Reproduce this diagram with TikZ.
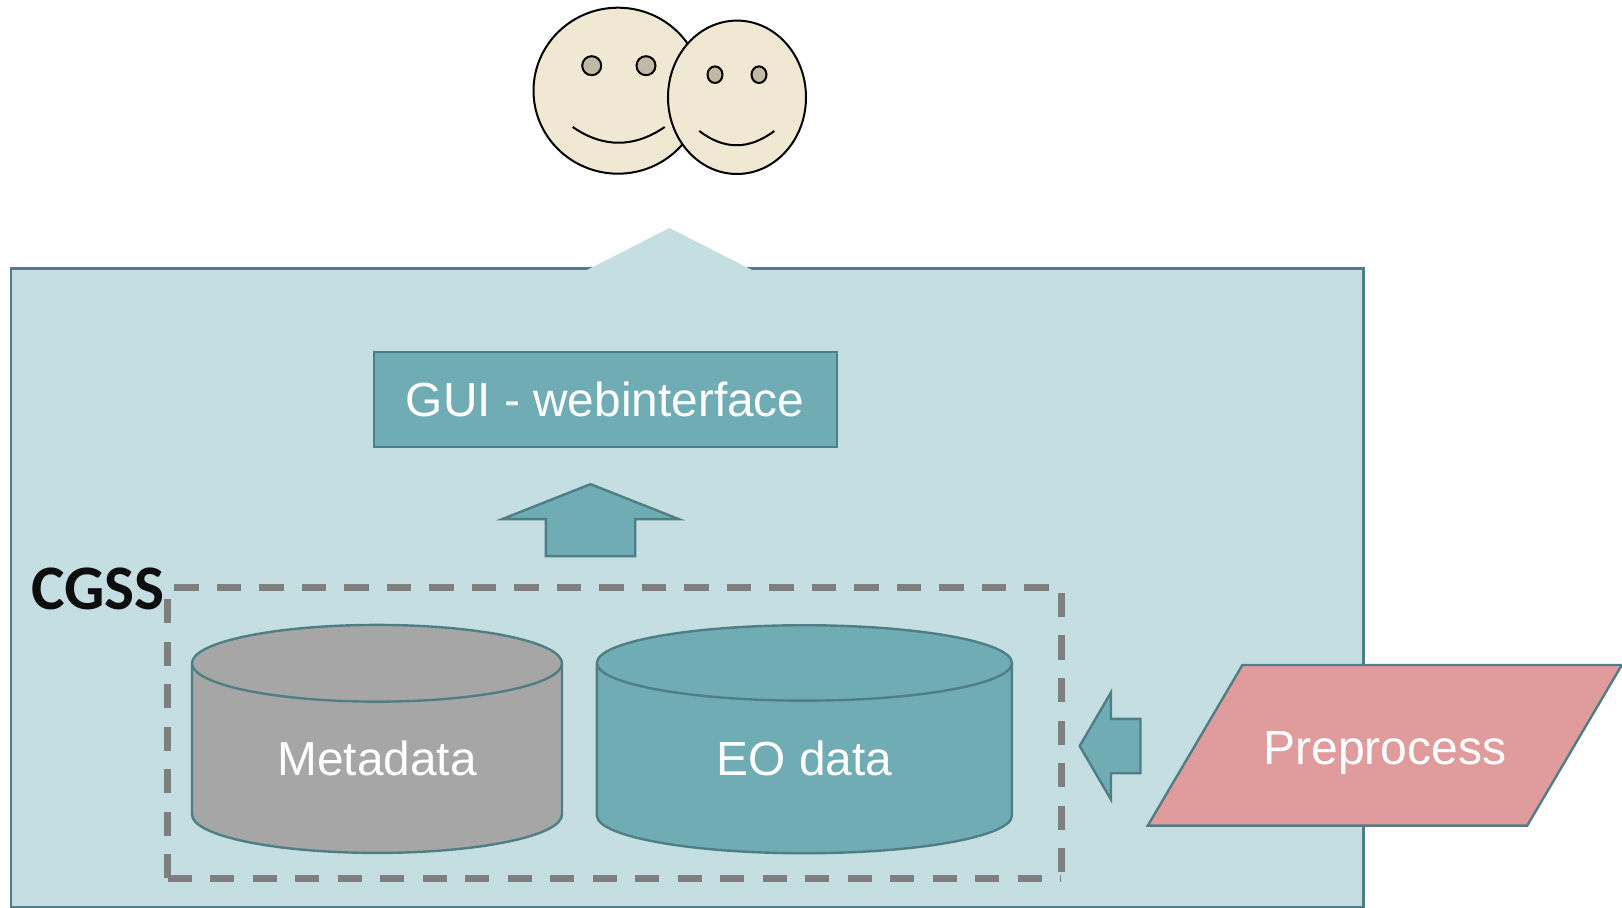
\documentclass[tikz,border=0pt]{standalone}
\usepackage{fontspec}
\setmainfont{Liberation Sans}
\newfontfamily\cgssfont{Carlito}
\usetikzlibrary{calc}
\usetikzlibrary{positioning}
\usetikzlibrary{shapes.geometric}
\usetikzlibrary{shapes.arrows}
\definecolor{panelblue}{HTML}{C5DEE1}
\definecolor{tealfill}{HTML}{6FACB4}
\definecolor{tealline}{HTML}{4F7F85}
\definecolor{greyfill}{HTML}{A6A6A6}
\definecolor{dashgrey}{HTML}{7F7F7F}
\definecolor{pinkfill}{HTML}{E09C9D}
\definecolor{skin}{HTML}{F0E8D2}
\definecolor{eyefill}{HTML}{C1B9A6}

\begin{document}
\begin{tikzpicture}[x=0.5pt, y=-0.5pt, line join=miter]
	\tikzstyle{face}=[draw=black, fill=skin, ellipse, line width=1pt, inner sep=0pt]
	\tikzstyle{eye}=[face, fill=eyefill]
	\tikzstyle{smile}=[draw=black, line width=1pt]
	\tikzstyle{tealbox}=[draw=tealline, fill=tealfill, line width=1.2pt, text=white, font=\fontsize{23.9pt}{28pt}\selectfont, inner sep=0pt]
	\tikzstyle{drum}=[tealbox, cylinder, shape border rotate=90, aspect=0.385, minimum width=185pt, minimum height=114pt]
	\tikzstyle{blockarrow}=[tealbox, single arrow, single arrow head indent=0pt]
	\tikzstyle{dashline}=[draw=dashgrey, dash pattern=on 12.1pt off 9.15pt, line width=3.4pt]
	
	\useasboundingbox (0,0) rectangle (1622,908);
	
	% panel, its top edge is covered by the peak
	\node[draw=tealline, fill=panelblue, line width=1.2pt, minimum width=676.2pt, minimum height=319.5pt, inner sep=0pt] (panel) at (687.3,588) {};
	\fill[panelblue] (587,270) -- (669.5,228) -- (752,270) -- cycle;
	
	% the two users
	\node[face, minimum width=84.5pt, minimum height=83pt] (bigface) at (618,90.7) {};
	\node[eye, minimum size=9.5pt] (bigeyel) at (591.7,65.7) {};
	\node[eye, minimum size=9.5pt] (bigeyer) at (646,65.7) {};
	\draw[smile] (572.7,127) .. controls (603,148) and (634,148) .. (664.7,127);
	\node[face, minimum width=69pt, minimum height=76.7pt] (smallface) at (737,97.3) {};
	\node[eye, minimum width=7.5pt, minimum height=8.3pt] (smalleyel) at (715,74.7) {};
	\node[eye, minimum width=7.5pt, minimum height=8.3pt] (smalleyer) at (759,74.7) {};
	\draw[smile] (699.3,131) .. controls (724,150) and (749,150) .. (774.3,131);
	
	\node[tealbox, minimum width=231.5pt, minimum height=47.5pt] (gui) at (605.2,399.5) {GUI - webinterface};
	\node[blockarrow, shape border rotate=90, inner xsep=21.75pt, inner ysep=0pt, minimum height=36pt, minimum width=87pt, single arrow head extend=21.75pt, single arrow tip angle=136.8] (arrowup) at (590.5,529) {};
	
	\node[minimum width=446.5pt, minimum height=145pt, inner sep=0pt] (cgss) at (614.5,733) {};
	\draw[dashline] (cgss.south west) -- (cgss.north west) -- (cgss.north east) -- (cgss.south east);
	\draw[dashline] (cgss.south west) -- (cgss.south east);
	\node[anchor=base west, inner sep=0pt, text=black!95, font=\cgssfont\bfseries\fontsize{31.7pt}{36pt}\selectfont] (cgsslabel) at (31,610) {CGSS};
	
	\node[drum, fill=greyfill] (meta) at (377,758.7) {Metadata};
	\node[drum, aspect=0.43, minimum width=207.5pt, right=16.2pt of meta] (eo) {EO data};
	
	\node[blockarrow, shape border rotate=180, inner xsep=0pt, inner ysep=13pt, minimum height=30.4pt, minimum width=52.4pt, single arrow head extend=13.2pt, single arrow tip angle=119.4] (arrowleft) at (1118,746) {};
	\node[tealbox, fill=pinkfill, trapezium, trapezium left angle=59.5, trapezium right angle=120.5, trapezium stretches body=true, minimum width=237pt, text height=23.7pt, text depth=5pt, inner ysep=25.8pt, font=\fontsize{24pt}{28pt}\selectfont] (pre) at (1384.8,745.3) {Preprocess};
\end{tikzpicture}
\end{document}
